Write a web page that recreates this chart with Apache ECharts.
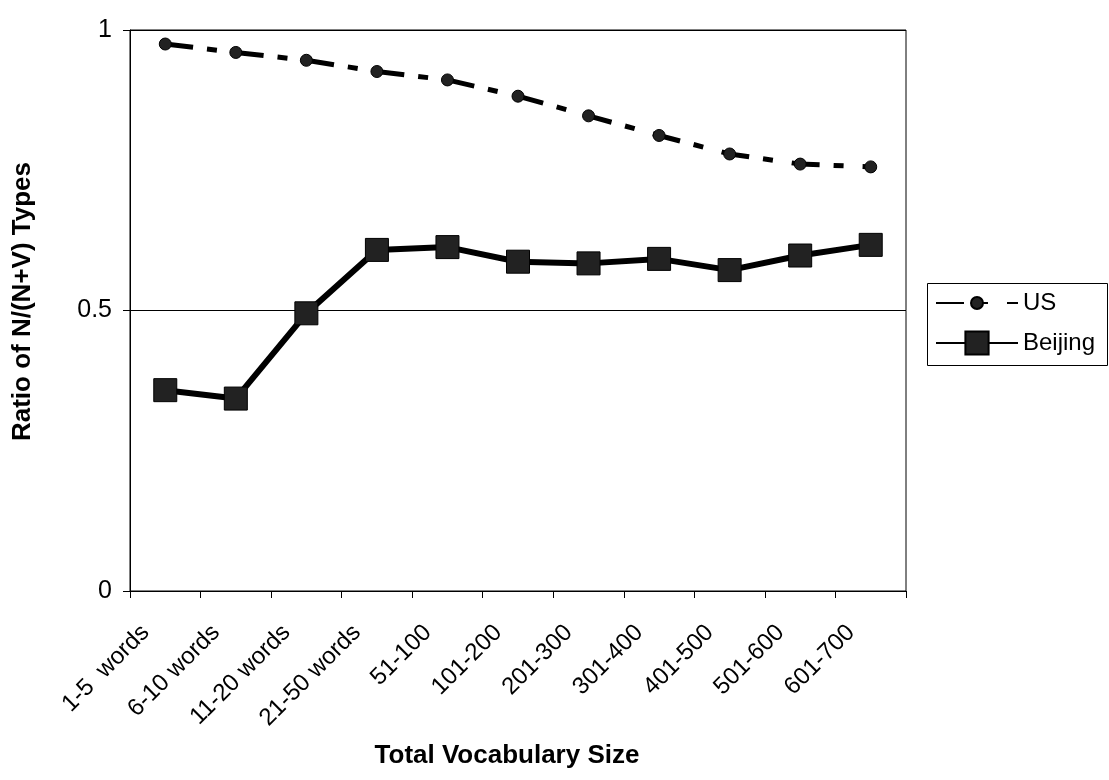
<!DOCTYPE html>
<html>
<head>
<meta charset="utf-8">
<script src="https://cdn.jsdelivr.net/npm/echarts@6/dist/echarts.min.js"></script>
<style>
html,body{margin:0;padding:0;background:#fff;}
#chart{width:1109px;height:780px;}
</style>
</head>
<body>
<div id="chart"></div>
<script>
var categories = ['1-5  words','6-10 words','11-20 words','21-50 words','51-100','101-200','201-300','301-400','401-500','501-600','601-700'];
var usValues = [0.975, 0.960, 0.946, 0.926, 0.911, 0.882, 0.847, 0.812, 0.779, 0.761, 0.756];
var beijingValues = [0.358, 0.343, 0.495, 0.608, 0.613, 0.587, 0.584, 0.592, 0.572, 0.598, 0.617];
var yTicks = {min: 0, max: 1, interval: 0.5};

var FONT = "'Liberation Sans', Arial, sans-serif";
var chart = echarts.init(document.getElementById('chart'), null, {renderer: 'canvas'});
chart.setOption({
  animation: false,
  backgroundColor: '#fff',
  grid: {left: 130, right: 203, top: 30, bottom: 189, show: true, borderColor: '#000', borderWidth: 1},
  xAxis: {
    type: 'category',
    data: categories,
    boundaryGap: true,
    name: 'Total Vocabulary Size',
    nameLocation: 'middle',
    nameGap: 152,
    nameTextStyle: {fontFamily: FONT, fontWeight: 'bold', fontSize: 26, color: '#000', padding: [0, 22, 0, 0]},
    axisLine: {lineStyle: {color: '#000', width: 1}},
    axisTick: {show: true, length: 7, lineStyle: {color: '#000'}},
    axisLabel: {rotate: 45, margin: 18, padding: [0, 28, 0, 0], fontFamily: FONT, fontSize: 24, color: '#000', interval: 0}
  },
  yAxis: {
    type: 'value',
    min: yTicks.min, max: yTicks.max, interval: yTicks.interval,
    name: 'Ratio of N/(N+V) Types',
    nameLocation: 'middle',
    nameGap: 94,
    nameTextStyle: {fontFamily: FONT, fontWeight: 'bold', fontSize: 26, color: '#000', padding: [0, 0, 0, 18]},
    axisLine: {show: true, lineStyle: {color: '#000', width: 1}},
    axisTick: {show: true, length: 7, lineStyle: {color: '#000'}},
    axisLabel: {margin: 18, fontFamily: FONT, fontSize: 25, color: '#000'},
    splitLine: {show: true, lineStyle: {color: '#000', width: 1}}
  },
  legend: [
    {
      data: ['US'], left: 935, top: 290, padding: 0,
      itemWidth: 82, itemHeight: 15,
      textStyle: {fontFamily: FONT, fontSize: 24, color: '#000', lineHeight: 26}
    },
    {
      data: ['Beijing'], left: 935, top: 330, padding: 0,
      itemWidth: 82, itemHeight: 29,
      textStyle: {fontFamily: FONT, fontSize: 24, color: '#000', lineHeight: 26}
    }
  ],
  graphic: [
    {type: 'rect', left: 925, top: 281, shape: {width: 180, height: 82},
     style: {fill: 'none', stroke: '#000', lineWidth: 1}, z: 10}
  ],
  series: [
    {
      name: 'US', type: 'line', data: usValues,
      symbol: 'circle', symbolSize: 12,
      itemStyle: {color: '#222', borderColor: '#000', borderWidth: 1},
      lineStyle: {color: '#000', width: 5, type: [28, 14, 10, 19]},
      z: 3
    },
    {
      name: 'Beijing', type: 'line', data: beijingValues,
      symbol: 'rect', symbolSize: 23,
      itemStyle: {color: '#222', borderColor: '#000', borderWidth: 1},
      lineStyle: {color: '#000', width: 6, type: 'solid'},
      z: 4
    }
  ]
});
</script>
</body>
</html>
